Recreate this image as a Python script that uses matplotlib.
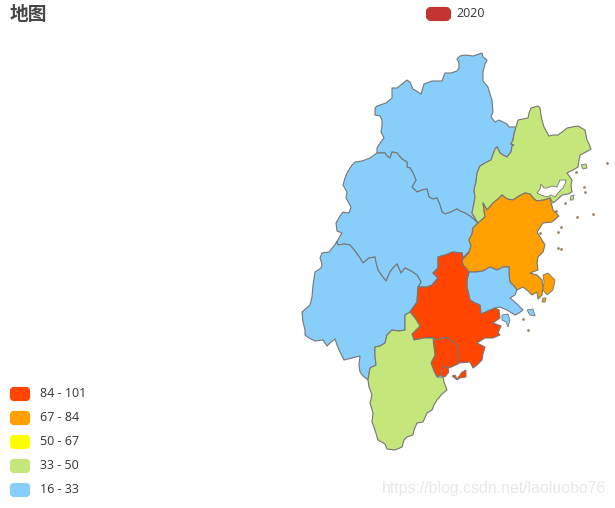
#!/usr/bin/env python3
"""Choropleth of Fujian prefectures, outlines traced off the picture in pixel coordinates."""

import matplotlib

matplotlib.use("Agg")
import matplotlib.pyplot as plt
from matplotlib.patches import FancyBboxPatch, Polygon

W, H = 615, 508
TITLE = "地图"
SERIES_NAME = "2020"
SERIES_COLOR = "#C23531"
WATERMARK = "https://blog.csdn.net/laoluobo76"

PIECE_LABELS = ["84 - 101", "67 - 84", "50 - 67", "33 - 50", "16 - 33"]
PIECE_COLORS = ["#FF4500", "#FFA000", "#FFFF00", "#C4E67A", "#87CEFA"]
PIECE_LOWER = [84, 67, 50, 33, 16]

# Shared borders, reused by the regions on both sides.
NANPING_SANMING = [(478, 223), (470, 216), (465, 213), (460, 211), (457, 209), (451, 212),
                   (445, 214), (442, 212), (440, 205), (437, 198), (433, 199), (429, 197),
                   (427, 189), (422, 190), (417, 192), (412, 187), (416, 180), (413, 173),
                   (410, 168), (407, 167), (407, 162), (402, 159), (397, 153), (392, 152),
                   (390, 158), (387, 156), (385, 153), (377, 153)]
NANPING_NINGDE = [(516, 127), (514, 134), (513, 140), (511, 144), (514, 145), (512, 146),
                  (511, 152), (507, 157), (503, 155), (500, 153), (497, 147), (495, 149),
                  (491, 160), (485, 163), (480, 166), (477, 173), (476, 182), (474, 190),
                  (475, 197), (474, 203), (472, 213), (478, 223)]
NINGDE_FUZHOU = [(478, 223), (485, 217), (483, 203), (487, 210), (493, 203), (498, 199),
                 (502, 195), (507, 199), (513, 200), (519, 196), (525, 193), (530, 194),
                 (534, 199), (537, 201), (544, 200), (550, 198)]
SANMING_FUZHOU = [(478, 223), (473, 228), (472, 234), (469, 240), (471, 246), (469, 252)]
SANMING_QUANZHOU = [(469, 252), (463, 258), (462, 253), (453, 252), (445, 255), (438, 257),
                    (438, 268), (433, 273), (438, 278), (432, 285), (427, 287), (418, 287)]
SANMING_LONGYAN = [(418, 287), (421, 282), (417, 275), (411, 271), (405, 268), (401, 273),
                   (397, 264), (393, 268), (390, 272), (386, 281), (382, 276), (378, 270),
                   (376, 263), (375, 257), (369, 258), (363, 263), (360, 258), (355, 251),
                   (350, 245), (344, 244), (338, 245), (337, 242)]
QUANZHOU_FUZHOU = [(469, 252), (462, 260), (463, 265), (469, 272)]
FUZHOU_PUTIAN = [(469, 272), (476, 272), (483, 271), (490, 267), (497, 270), (503, 267),
                 (509, 267), (509, 275), (510, 282), (514, 286), (517, 290)]
QUANZHOU_PUTIAN = [(469, 272), (467, 280), (467, 287), (470, 300), (475, 303), (480, 305),
                   (481, 314)]
QUANZHOU_LONGYAN = [(418, 287), (417, 302), (410, 312)]
QUANZHOU_ZHANGZHOU = [(410, 312), (415, 318), (420, 326), (412, 334), (414, 340), (424, 338),
                      (433, 338)]
XIAMEN_QUANZHOU = [(433, 338), (437, 340), (443, 338), (448, 338), (453, 342), (457, 345),
                   (458, 354), (459, 363)]
XIAMEN_ZHANGZHOU = [(433, 338), (434, 347), (435, 355), (431, 363), (434, 371), (437, 377)]
LONGYAN_ZHANGZHOU = [(368, 380), (370, 368), (376, 365), (375, 356), (375, 347), (380, 346),
                     (385, 343), (387, 335), (392, 330), (399, 331), (405, 330), (405, 322),
                     (405, 315), (410, 312)]

# Coasts and outer borders.
NANPING_OUTER = [(377, 153), (377, 148), (380, 143), (384, 138), (381, 132), (382, 126),
                 (382, 120), (380, 116), (375, 115), (375, 108), (377, 106), (380, 105),
                 (386, 103), (392, 98), (392, 88), (397, 88), (402, 84), (407, 80), (410, 82),
                 (413, 89), (421, 94), (424, 84), (432, 81), (442, 81), (445, 73), (451, 73),
                 (457, 71), (459, 68), (459, 63), (457, 59), (460, 56), (465, 55), (473, 56),
                 (482, 53), (483, 57), (487, 60), (485, 64), (483, 72), (483, 81), (488, 87),
                 (490, 94), (492, 100), (493, 112), (491, 117), (495, 122), (499, 120),
                 (507, 124), (509, 127), (516, 127)]
SANMING_OUTER = [(337, 242), (336, 243), (342, 233), (337, 231), (336, 223), (340, 216),
                 (343, 212), (349, 213), (351, 207), (346, 198), (347, 192), (343, 185),
                 (345, 178), (347, 173), (352, 165), (355, 162), (362, 161), (370, 158),
                 (377, 153)]
NINGDE_OUTER = [(550, 198), (553, 203), (558, 199), (562, 195), (568, 194), (572, 192),
                (571, 186), (572, 180), (567, 173), (573, 170), (578, 167), (579, 160),
                (580, 155), (586, 152), (591, 149), (589, 144), (587, 140), (585, 130),
                (578, 126), (572, 127), (567, 128), (562, 132), (558, 135), (553, 135),
                (549, 136), (544, 127), (542, 120), (541, 115), (540, 108), (538, 106),
                (531, 108), (529, 113), (528, 118), (523, 119), (518, 120), (516, 127)]
NINGDE_BAY = [(541, 184), (544, 188), (547, 188), (552, 186), (557, 187), (560, 180),
              (566, 180), (565, 184), (563, 188), (558, 193), (555, 197), (551, 195),
              (547, 197), (541, 195), (537, 193), (540, 189)]
FUZHOU_COAST = [(517, 290), (523, 287), (528, 291), (532, 295), (537, 292), (538, 299),
                (542, 295), (543, 287), (542, 280), (537, 275), (530, 273), (538, 270),
                (537, 263), (538, 257), (543, 252), (545, 245), (542, 240), (537, 232),
                (543, 223), (552, 222), (559, 216), (553, 210), (550, 198)]
PUTIAN_COAST = [(517, 290), (515, 295), (510, 298), (516, 303), (523, 310), (519, 313),
                (515, 315), (507, 310), (500, 307), (495, 308), (481, 314)]
QUANZHOU_COAST = [(481, 314), (495, 308), (499, 310), (500, 318), (493, 323), (501, 326),
                  (498, 333), (500, 335), (493, 338), (485, 338), (477, 343), (485, 347),
                  (483, 354), (482, 360), (477, 365), (473, 368), (470, 362), (459, 363)]
XIAMEN_COAST = [(459, 363), (458, 364), (449, 368), (443, 366), (441, 375), (437, 377)]
ZHANGZHOU_COAST = [(437, 377), (443, 377), (444, 382), (447, 390), (442, 394), (437, 400),
                   (434, 405), (432, 410), (427, 413), (423, 422), (417, 423), (414, 430),
                   (413, 435), (407, 437), (404, 440), (402, 447), (395, 450), (387, 449),
                   (385, 444), (378, 440), (377, 437), (375, 430), (372, 422), (373, 413),
                   (370, 403), (372, 395), (369, 387), (368, 380)]
LONGYAN_OUTER = [(368, 380), (363, 376), (360, 372), (359, 365), (360, 356), (352, 358),
                 (344, 360), (340, 352), (337, 345), (335, 339), (331, 342), (327, 346),
                 (323, 340), (315, 341), (309, 338), (305, 335), (305, 330), (303, 322),
                 (302, 312), (310, 305), (312, 297), (313, 285), (315, 272), (321, 268),
                 (322, 264), (320, 258), (322, 253), (329, 252), (337, 242)]

# Estimated inside the band each colour stands for.
REGIONS = [
    (28, [NANPING_OUTER, NANPING_NINGDE, NANPING_SANMING]),
    (25, [SANMING_OUTER, NANPING_SANMING[::-1], SANMING_FUZHOU, SANMING_QUANZHOU,
          SANMING_LONGYAN]),
    (27, [LONGYAN_OUTER, SANMING_LONGYAN[::-1], QUANZHOU_LONGYAN, LONGYAN_ZHANGZHOU[::-1]]),
    (42, [NINGDE_OUTER, NANPING_NINGDE, NINGDE_FUZHOU]),
    (75, [NINGDE_FUZHOU[::-1], SANMING_FUZHOU, QUANZHOU_FUZHOU, FUZHOU_PUTIAN, FUZHOU_COAST]),
    (30, [FUZHOU_PUTIAN, PUTIAN_COAST, QUANZHOU_PUTIAN[::-1]]),
    (92, [SANMING_QUANZHOU, QUANZHOU_LONGYAN, QUANZHOU_ZHANGZHOU, XIAMEN_QUANZHOU,
          QUANZHOU_COAST[::-1], QUANZHOU_PUTIAN[::-1], QUANZHOU_FUZHOU[::-1]]),
    (88, [XIAMEN_QUANZHOU, XIAMEN_COAST, XIAMEN_ZHANGZHOU[::-1]]),
    (40, [QUANZHOU_ZHANGZHOU, XIAMEN_ZHANGZHOU, ZHANGZHOU_COAST, LONGYAN_ZHANGZHOU]),
]

ISLANDS = [
    (75, [(543, 275), (548, 273), (555, 280), (553, 290), (547, 295), (543, 290), (544, 282)]),
    (75, [(543, 298), (546, 298), (545, 302), (542, 302)]),
    (30, [(502, 315), (508, 314), (510, 320), (508, 327), (506, 322), (502, 320)]),
    (30, [(527, 310), (533, 309), (535, 316), (530, 315)]),
    (92, [(452, 376), (455, 375), (457, 379), (462, 372), (466, 370), (466, 377), (460, 378),
          (457, 380)]),
    (88, [(443, 366), (448, 368), (449, 372), (445, 377), (441, 376), (442, 370)]),
    (42, [(581, 165), (586, 164), (587, 168), (583, 169)]),
    (42, [(571, 196), (574, 195), (573, 200), (570, 200)]),
]
ISLET_X = [565, 556, 561, 558, 540, 593, 577, 584, 585, 607, 576, 558, 561, 523, 528]
ISLET_Y = [203, 211, 227, 232, 233, 214, 217, 187, 192, 163, 172, 248, 249, 319, 330]


def piece_color(value):
    for lower, color in zip(PIECE_LOWER, PIECE_COLORS):
        if value >= lower:
            return color
    return PIECE_COLORS[-1]


def join(parts):
    pts = []
    for part in parts:
        pts += part
    return pts


def main():
    fig = plt.figure(figsize=(W / 100, H / 100), dpi=100)
    ax = fig.add_axes([0, 0, 1, 1])
    ax.set_xlim(0, W)
    ax.set_ylim(H, 0)
    ax.axis("off")

    edge = "#767676"
    for value, parts in REGIONS:
        ax.add_patch(Polygon(join(parts), closed=True, facecolor=piece_color(value),
                             edgecolor=edge, linewidth=0.8, joinstyle="round"))
    for value, pts in ISLANDS:
        ax.add_patch(Polygon(pts, closed=True, facecolor=piece_color(value),
                             edgecolor=edge, linewidth=0.6))
    ax.add_patch(Polygon(NINGDE_BAY, closed=True, facecolor="white", edgecolor=edge, linewidth=0.6))
    ax.scatter(ISLET_X, ISLET_Y, s=2.5, color="#B07A3C", edgecolors=edge, linewidths=0.3, zorder=3)

    cjk = ["Noto Sans CJK SC", "DejaVu Sans"]
    ax.text(10, 15, TITLE, family=cjk, fontsize=13.5, fontweight="bold", color="#464646",
            ha="left", va="center")

    # Series legend at the top.
    ax.add_patch(FancyBboxPatch((428, 9), 21, 10, boxstyle="round,pad=0,rounding_size=3",
                                mutation_aspect=1, facecolor=SERIES_COLOR, edgecolor=SERIES_COLOR,
                                linewidth=3))
    ax.text(456, 13.5, SERIES_NAME, family="Open Sans", fontsize=9, color="#333333",
            ha="left", va="center")

    # Piece legend at the bottom left.
    for i, (label, color) in enumerate(zip(PIECE_LABELS, PIECE_COLORS)):
        y = 394 + 24 * i
        ax.add_patch(FancyBboxPatch((12, y - 5), 16, 10, boxstyle="round,pad=0,rounding_size=2",
                                    facecolor=color, edgecolor=color, linewidth=3))
        ax.text(40, y - 0.5, label, family="Open Sans", fontsize=9, color="#333333",
                ha="left", va="center")

    ax.text(606, 489, WATERMARK, family="Liberation Sans", fontsize=11.4, color="#E8E8E8",
            ha="right", va="center")

    fig.savefig("out.png", dpi=100)


if __name__ == "__main__":
    main()
